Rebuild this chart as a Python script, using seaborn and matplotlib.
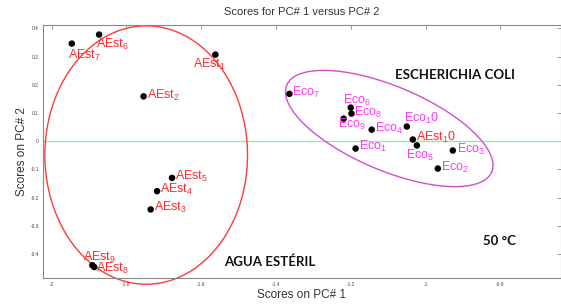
import numpy as np
import matplotlib
matplotlib.use("Agg")
import matplotlib.pyplot as plt
import seaborn as sns
import pandas as pd

# scores
aest_names = ["AEst$_1$", "AEst$_2$", "AEst$_3$", "AEst$_4$", "AEst$_5$",
              "AEst$_6$", "AEst$_7$", "AEst$_8$", "AEst$_9$", "AEst$_1$0"]
aest_pc1 = [-1.562, -1.754, -1.735, -1.718, -1.678, -1.873, -1.946, -1.886, -1.891, -1.034]
aest_pc2 = [0.307, 0.159, -0.242, -0.177, -0.130, 0.378, 0.346, -0.446, -0.440, 0.006]

eco_names = ["Eco$_1$", "Eco$_2$", "Eco$_3$", "Eco$_4$", "Eco$_5$",
             "Eco$_6$", "Eco$_7$", "Eco$_8$", "Eco$_9$", "Eco$_1$0"]
eco_pc1 = [-1.187, -0.967, -0.927, -1.144, -1.023, -1.200, -1.364, -1.198, -1.219, -1.050]
eco_pc2 = [-0.026, -0.097, -0.033, 0.041, -0.015, 0.119, 0.168, 0.098, 0.080, 0.052]

# label offsets in pixels (dx, dy)
aest_off = [(-22, -10), (3, 1), (3, 2), (3, 2), (3, 1), (-3, -10), (-4, -12), (2, -1), (-9, 8), (3, 2)]
eco_off = [(3, 2), (3, 1), (4, 1), (3, 1), (-11, -10), (-8, 7), (3, 1), (3, 1), (-6, -6), (-3, 8)]

red_ell = dict(cx=-1.747, cy=-0.049, ux=0.271, uy=0.0, vx=0.0, vy=0.458)
mag_ell = dict(cx=-1.097, cy=0.045, ux=0.274, uy=-0.154, vx=0.044, vy=0.137)

sns.set_theme(style="white")
plt.rcParams["font.family"] = ["Liberation Sans", "DejaVu Sans"]
plt.rcParams["mathtext.default"] = "regular"

fig = plt.figure(figsize=(5.61, 3.05), dpi=100)
ax = fig.add_axes([43 / 561, 1 - 278.3 / 305, 517.5 / 561, 253.3 / 305])

df = pd.DataFrame({"pc1": aest_pc1 + eco_pc1, "pc2": aest_pc2 + eco_pc2})
ax.axhline(0, color="#90ee90", lw=0.9, zorder=1)
sns.scatterplot(data=df, x="pc1", y="pc2", color="black", s=22, edgecolor="none", ax=ax, zorder=3)

for names, xs, ys, offs, col in [(aest_names, aest_pc1, aest_pc2, aest_off, "#ff2a2a"),
                                 (eco_names, eco_pc1, eco_pc2, eco_off, "#ff33ff")]:
    for n, x, y, (dx, dy) in zip(names, xs, ys, offs):
        ax.annotate(n, (x, y), xytext=(dx, dy), textcoords="offset pixels",
                    ha="left", va="center", fontsize=9, color=col, zorder=4)

t = np.linspace(0, 2 * np.pi, 300)
for e, col in [(red_ell, "#ff3a3a"), (mag_ell, "#d050c8")]:
    ex = e["cx"] + np.cos(t) * e["ux"] + np.sin(t) * e["vx"]
    ey = e["cy"] + np.cos(t) * e["uy"] + np.sin(t) * e["vy"]
    ax.plot(ex, ey, color=col, lw=1.0, clip_on=False, zorder=2)

ax.set_xlim(-2.023, -0.639)
ax.set_ylim(-0.486, 0.412)
ax.set_xticks([-2, -1.8, -1.6, -1.4, -1.2, -1, -0.8])
ax.set_xticklabels(["-2", "-1.8", "-1.6", "-1.4", "-1.2", "-1", "-0.8"])
ax.set_yticks([-0.4, -0.3, -0.2, -0.1, 0, 0.1, 0.2, 0.3, 0.4])
ax.set_yticklabels(["-0.4", "-0.3", "-0.2", "-0.1", "0", "0.1", "0.2", "0.3", "0.4"])
ax.tick_params(direction="in", length=3, width=0.6, labelsize=3.5, colors="#888888",
               labelcolor="#444444", top=True, right=True, pad=3)
for s in ax.spines.values():
    s.set_color("#888888")
    s.set_linewidth(0.8)

ax.set_title("Scores for PC# 1 versus PC# 2", fontsize=8, color="#333333", pad=7)
ax.set_xlabel("Scores on PC# 1", fontsize=8.5, color="#333333", labelpad=1)
ax.set_ylabel("Scores on PC# 2", fontsize=8.5, color="#333333", labelpad=2)

bold = dict(fontsize=9.5, fontweight="bold", color="#111111", family=["Lato", "DejaVu Sans"],
            transform=ax.transAxes, va="center", ha="left")
ax.text(352 / 517.5, (278.3 - 75) / 253.3, "ESCHERICHIA COLI", **bold)
ax.text(181 / 517.5, (278.3 - 262) / 253.3, "AGUA ESTÉRIL", **bold)
ax.text(440 / 517.5, (278.3 - 241) / 253.3, "50 °C", **bold)

fig.savefig("out.png", dpi=100)
